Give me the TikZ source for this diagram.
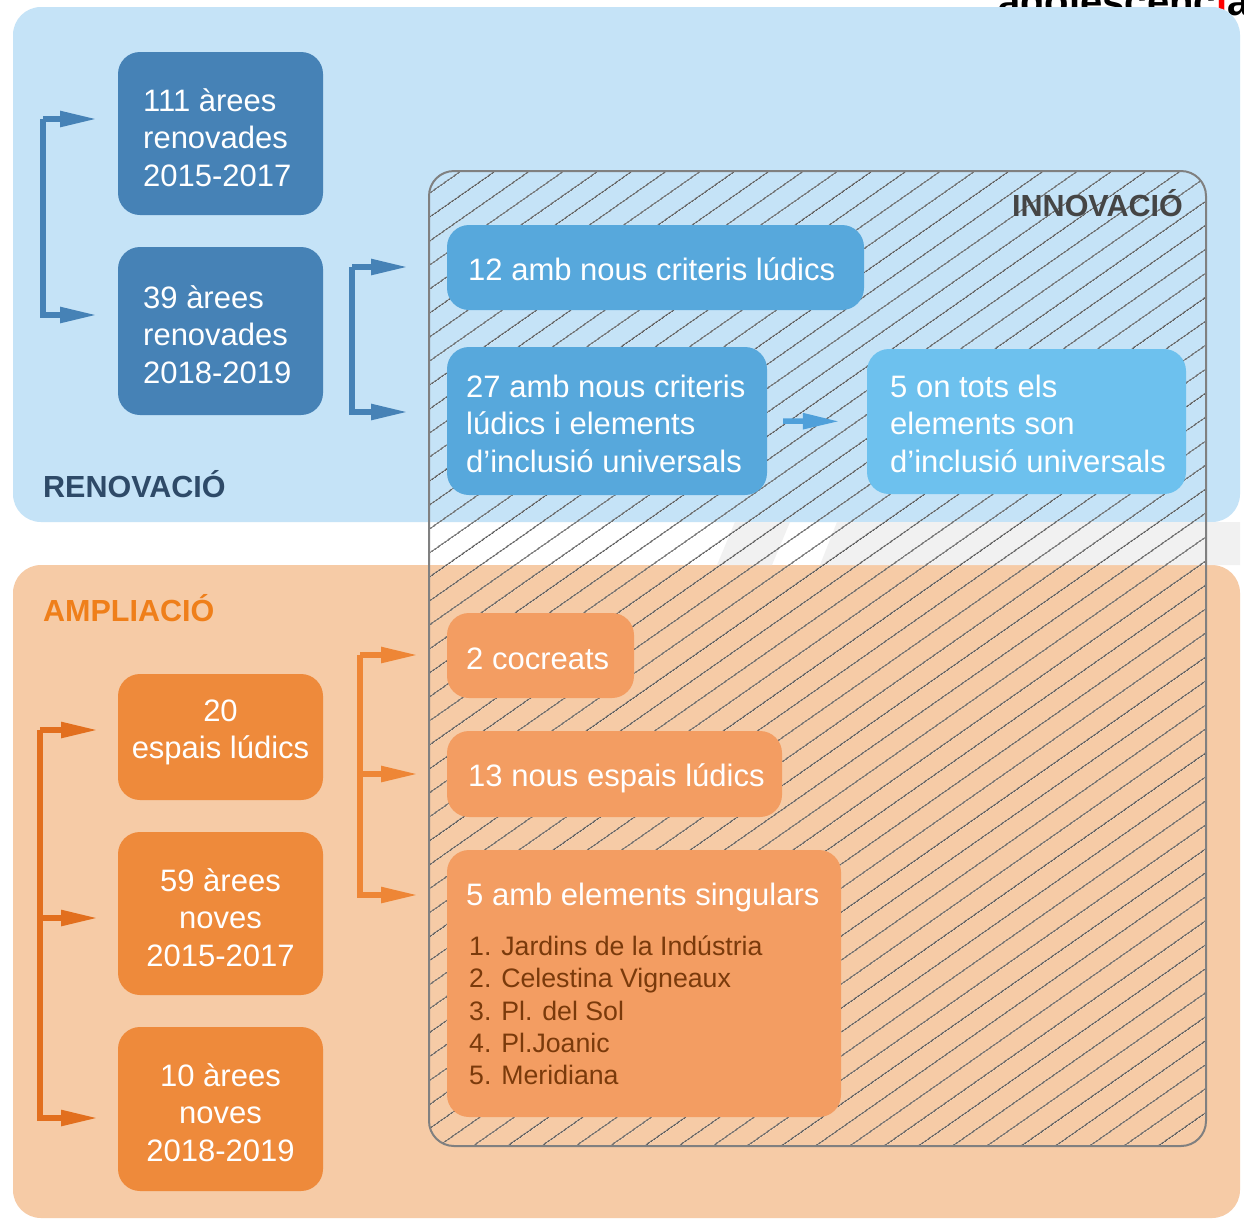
\documentclass[tikz,border=0pt]{standalone}
\usepackage{fontspec}
\setmainfont{Liberation Sans}
\usetikzlibrary{arrows.meta,patterns.meta,calc}
\definecolor{bgblue}{HTML}{C5E3F7}
\definecolor{bgorange}{HTML}{F6CBA6}
\definecolor{dblue}{HTML}{4682B6}
\definecolor{mblue}{HTML}{57A8DC}
\definecolor{lblue}{HTML}{6DC1EE}
\definecolor{dorange}{HTML}{EE8A3B}
\definecolor{lorange}{HTML}{F39D62}
\definecolor{arrorangeA}{HTML}{E26F1E}
\definecolor{arrorangeB}{HTML}{EE8636}
\definecolor{navy}{HTML}{2E4A68}
\definecolor{titleorange}{HTML}{EF7F1A}
\definecolor{hatchcol}{HTML}{5C5C5C}
\definecolor{hatchborder}{HTML}{808080}
\definecolor{titlegray}{HTML}{454545}
\definecolor{listbrown}{HTML}{7A3A0B}
\definecolor{shine}{HTML}{F1F1F1}
\definecolor{midarrow}{HTML}{4FA0DA}
\begin{document}
\begin{tikzpicture}[x=1pt,y=-1pt,
  bg/.style={rounded corners=28pt, inner sep=0pt, draw=none},
  box/.style={rounded corners=22pt, inner sep=0pt, draw=none},
  txt/.style={text=white, inner sep=0pt, align=left, font=\fontsize{31}{37.5}\selectfont},
  ctxt/.style={text=white, inner sep=0pt, align=center, font=\fontsize{31}{37.5}\selectfont},
  listtxt/.style={text=listbrown, inner sep=0pt, align=left, font=\fontsize{26.7}{32.2}\selectfont},
  title/.style={inner sep=0pt, font=\fontsize{30.5}{36}\selectfont\bfseries},
  arrline/.style={line width=5.5pt, -{Triangle[length=37pt,width=15pt]}},
  innovbox/.style={rounded corners=25pt, inner sep=0pt, draw=hatchborder, line width=2pt,
     pattern={Lines[angle=35,distance=19.5pt,line width=1.3pt]}, pattern color=hatchcol}
]
\useasboundingbox (0,0) rectangle (1244,1219);
\fill[white] (0,0) rectangle (1244,1219);

% watermark logo (cut off at top)
\node[anchor=base west, inner sep=0pt, font=\fontsize{40}{40}\selectfont\bfseries] (logo) at (998,15) {adolescenc\textcolor{red}{i}a};

% backgrounds
\node[bg, fill=bgblue, minimum width=1227pt, minimum height=515pt] (renov) at (626.5,264.5) {};
\node[bg, fill=bgorange, minimum width=1227pt, minimum height=653pt] (ampl) at (626.5,891.5) {};

% light shine in the gap
\fill[shine] (735,522) -- (790,522) -- (772,565) -- (717,565) -- cycle;
\fill[shine] (837,522) -- (1240,522) -- (1240,565) -- (820,565) -- cycle;

% innovation hatched area
\node[innovbox, minimum width=777pt, minimum height=975pt] (innov) at (817.5,658.5) {};

% section titles
\node[title, text=navy, anchor=base west] (tren) at (43,497) {RENOVACIÓ};
\node[title, text=titleorange, anchor=base west] (tamp) at (43,621) {AMPLIACIÓ};
\node[title, text=titlegray, anchor=base east] (tinn) at (1183,216) {INNOVACIÓ};

% left blue boxes (anchor base = baseline of last line)
\node[box, fill=dblue, minimum width=205pt, minimum height=163pt] (b1) at (220.5,133.5) {};
\node[txt, anchor=base west] (b1t) at (143,186) {111 àrees\\renovades\\2015-2017};
\node[box, fill=dblue, minimum width=205pt, minimum height=168pt] (b2) at (220.5,331) {};
\node[txt, anchor=base west] (b2t) at (143,383) {39 àrees\\renovades\\2018-2019};

% left orange boxes
\node[box, fill=dorange, minimum width=205pt, minimum height=126pt] (o1) at (220.5,737) {};
\node[ctxt, anchor=base] (o1t) at (220.5,758.5) {20\\espais lúdics};
\node[box, fill=dorange, minimum width=205pt, minimum height=163pt] (o2) at (220.5,913.5) {};
\node[ctxt, anchor=base] (o2t) at (220.5,966) {59 àrees\\noves\\2015-2017};
\node[box, fill=dorange, minimum width=205pt, minimum height=164pt] (o3) at (220.5,1109) {};
\node[ctxt, anchor=base] (o3t) at (220.5,1161) {10 àrees\\noves\\2018-2019};

% right blue boxes
\node[box, fill=mblue, minimum width=417pt, minimum height=85pt] (r1) at (655.5,267.5) {};
\node[txt, anchor=base west] (r1t) at (468,280) {12 amb nous criteris lúdics};
\node[box, fill=mblue, minimum width=320pt, minimum height=148pt] (r2) at (607,421) {};
\node[txt, anchor=base west] (r2t) at (466,472) {27 amb nous criteris\\lúdics i elements\\d’inclusió universals};
\node[box, fill=lblue, minimum width=319pt, minimum height=145pt] (r3) at (1026.5,421.5) {};
\node[txt, anchor=base west] (r3t) at (890,472) {5 on tots els\\elements son\\d’inclusió universals};

% right orange boxes
\node[box, fill=lorange, minimum width=187pt, minimum height=85pt] (r4) at (540.5,655.5) {};
\node[txt, anchor=base west] (r4t) at (466,669) {2 cocreats};
\node[box, fill=lorange, minimum width=335pt, minimum height=86pt] (r5) at (614.5,774) {};
\node[txt, anchor=base west] (r5t) at (468,786) {13 nous espais lúdics};
\node[box, fill=lorange, minimum width=394pt, minimum height=267pt] (r6) at (644,983.5) {};
\node[txt, anchor=base west] (r6t) at (466,905) {5 amb elements singulars};
\node[listtxt, anchor=base west] (r6l) at (469,1084.4) {1. Jardins de la Indústria\\2. Celestina Vigneaux\\3. Pl. del Sol\\4. Pl.Joanic\\5. Meridiana};

% arrow coordinates
\coordinate (kA) at (43,0);
\coordinate (a1) at (97,119);
\coordinate (a2) at (97,315);
\coordinate (kB) at (352,0);
\coordinate (c1) at (408,267);
\coordinate (c2) at (408,412);
\coordinate (kC) at (40,0);
\coordinate (d1) at (98,730);
\coordinate (d2) at (98,918);
\coordinate (d3) at (98,1118);
\coordinate (kD) at (360,0);
\coordinate (e1) at (418,655);
\coordinate (e2) at (418,774);
\coordinate (e3) at (418,895);

% bracket arrows
\draw[arrline, dblue] (a1 -| kA) -- (a1);
\draw[arrline, dblue] (a1 -| kA) |- (a2);
\draw[arrline, dblue] (c1 -| kB) -- (c1);
\draw[arrline, dblue] (c1 -| kB) |- (c2);
\draw[arrline, arrorangeA] (d1 -| kC) -- (d1);
\draw[arrline, arrorangeA] (d2 -| kC) -- (d2);
\draw[arrline, arrorangeA] (d1 -| kC) |- (d3);
\draw[arrline, arrorangeB] (e1 -| kD) -- (e1);
\draw[arrline, arrorangeB] (e2 -| kD) -- (e2);
\draw[arrline, arrorangeB] (e1 -| kD) |- (e3);

% middle arrow
\draw[arrline, midarrow, shorten <=16pt, shorten >=27pt] (r2.east) -- (r3.west);
\end{tikzpicture}
\end{document}
